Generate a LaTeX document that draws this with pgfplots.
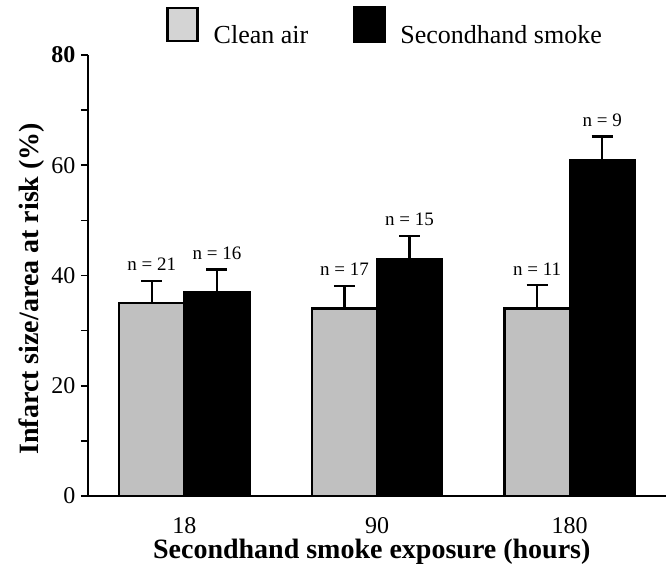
\documentclass[border=0pt]{standalone}
\usepackage{fontspec}
\setmainfont{Liberation Serif}
\usepackage{pgfplots}
\usepackage{pgfplotstable}
\pgfplotsset{compat=1.18}

\definecolor{bargray}{RGB}{192,192,192}
\definecolor{leggray}{RGB}{212,212,212}

% infarct size, upper SEM, group size
\pgfplotstableread{
x y err n
0 35 4.0 21
1 34 4.1 17
2 34 4.3 11
}\cleanair
\pgfplotstableread{
x y err n
0 37 4.1 16
1 43 4.2 15
2 61 4.2 9
}\smoke

\begin{document}
\begin{tikzpicture}
\begin{axis}[
    scale only axis,
    width=578bp, height=441bp,
    xmin=-0.5, xmax=2.5,
    ymin=0, ymax=80,
    axis lines=left,
    axis line style={-, line width=2bp},
    ybar=0pt, bar width=0.338,
    xtick={0,1,2}, xticklabels={18,90,180},
    major x tick style={draw=none},
    ytick={0,20,40,60,80}, yticklabels={0,20,40,60,\textbf{80}},
    minor ytick={10,30,50,70},
    tick align=outside,
    major tick length=7bp, minor tick length=7bp,
    tick style={line width=1.5bp, black},
    tick label style={font=\fontsize{24bp}{28bp}\selectfont},
    xticklabel style={anchor=base, yshift=-30bp},
    yticklabel style={anchor=east, xshift=-2bp},
    xlabel={\textbf{Secondhand smoke exposure (hours)}},
    ylabel={\textbf{Infarct size/area at risk (\%)}},
    every axis x label/.style={at={(axis description cs:0.491,-0.127)}, anchor=center,
        font=\fontsize{28bp}{32bp}\selectfont},
    every axis y label/.style={at={(axis description cs:-0.097,0.47)}, anchor=center, rotate=90,
        font=\fontsize{28bp}{32bp}\selectfont},
    nodes near coords={n = \pgfplotspointmeta},
    point meta=explicit symbolic,
    nodes near coords style={font=\fontsize{19bp}{22bp}\selectfont, text=black, anchor=base, yshift=33bp},
    legend columns=-1,
    legend style={at={(0.514,1.065)}, anchor=center, draw=none, fill=none,
        font=\fontsize{26bp}{30bp}\selectfont,
        /tikz/every even column/.append style={column sep=43bp}},
    clip=false,
]
\addplot[fill=bargray, draw=black, line width=2.2bp,
    error bars/.cd, y dir=plus, y explicit,
    error bar style={line width=2.2bp, black},
    error mark options={rotate=90, line width=2.2bp, mark size=10.5bp, black},
    /pgfplots/legend image code/.code={
        \draw[fill=leggray, draw=black, line width=2.8bp] (0bp,-6bp) rectangle (30bp,27bp);
        \path[draw=none, fill=none] (0bp,0bp) -- (44bp,0bp);}]
    table[x=x, y=y, y error=err, meta=n] {\cleanair};
\addplot[fill=black, draw=black, line width=2.2bp,
    error bars/.cd, y dir=plus, y explicit,
    error bar style={line width=2.2bp, black},
    error mark options={rotate=90, line width=2.2bp, mark size=10.5bp, black},
    /pgfplots/legend image code/.code={
        \fill[black] (0bp,-7bp) rectangle (31bp,28bp);
        \path[draw=none, fill=none] (0bp,0bp) -- (44bp,0bp);}]
    table[x=x, y=y, y error=err, meta=n] {\smoke};
\legend{Clean air, Secondhand smoke}
\end{axis}
\pgfresetboundingbox
\path (current axis.south west) ++(-88bp,-75bp) rectangle ++(670bp,571bp);
\end{tikzpicture}
\end{document}
